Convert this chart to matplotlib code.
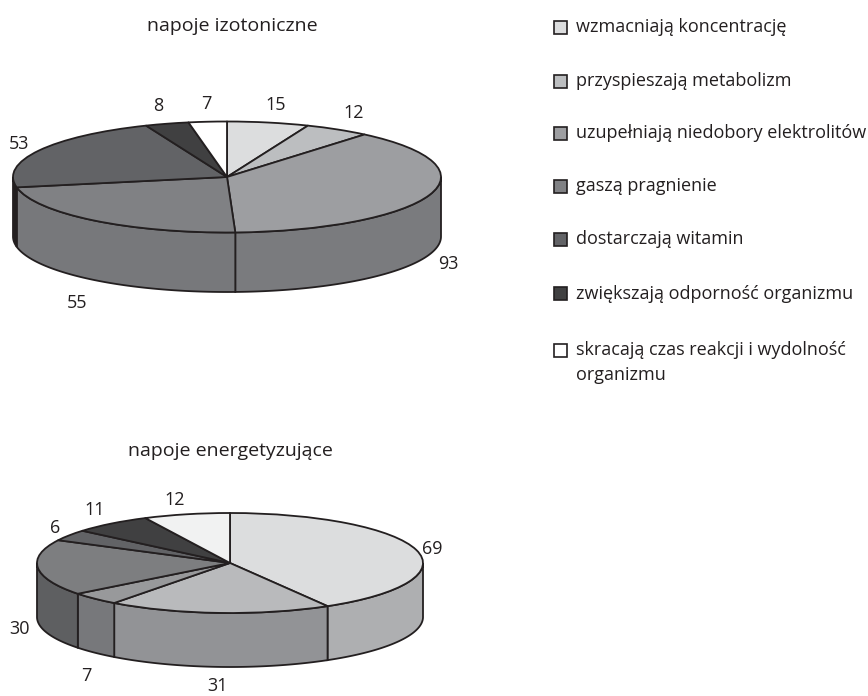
import matplotlib
matplotlib.use("Agg")
import matplotlib.pyplot as plt
import numpy as np
from matplotlib.patches import Rectangle

W, H = 868, 696
INK = "#231f20"
FONT = "Open Sans"
FS = 13.0
FS_TITLE = 14.0

title_a = "napoje izotoniczne"
values_a = [15, 12, 93, 55, 53, 8, 7]
top_a = ["#dcddde", "#bcbec0", "#9d9ea1", "#808184", "#626366", "#404041", "#ffffff"]
wall_a = ["#aeafb1", "#929396", "#7a7b7e", "#77787b", "#231f20", "#231f20", "#231f20"]

title_b = "napoje energetyzujące"
values_b = [69, 31, 7, 30, 6, 11, 12]
top_b = ["#dcddde", "#b9babc", "#98999b", "#7d7e80", "#626366", "#404041", "#f1f2f2"]
wall_b = ["#aeafb1", "#929396", "#77787b", "#5e5f61", "#404041", "#231f20", "#231f20"]

legend_labels = [
    "wzmacniają koncentrację",
    "przyspieszają metabolizm",
    "uzupełniają niedobory elektrolitów",
    "gaszą pragnienie",
    "dostarczają witamin",
    "zwiększają odporność organizmu",
    "skracają czas reakcji i wydolność\norganizmu",
]
legend_y = [27, 81, 133, 186, 239, 294, 350]

labels_a = [(276, 104), (354, 112), (448, 263), (77, 302), (19, 143), (158, 105), (206, 103)]
labels_b = [(432, 548), (217, 685), (86, 675), (19, 628), (55, 527), (95, 509), (175, 499)]

fig = plt.figure(figsize=(W / 100, H / 100), dpi=100, facecolor="white")


def fx(x):
    return x / W


def fy(y):
    return 1 - y / H


def pie3d(cx, cy, rx, ry, depth, values, tops, walls):
    ax = fig.add_axes([fx(cx - rx), fy(cy + ry + depth), 2 * rx / W, (2 * ry + depth) / H])
    wedges, _ = ax.pie(
        values,
        colors=tops,
        startangle=90,
        counterclock=False,
        frame=True,
        wedgeprops=dict(edgecolor=INK, linewidth=1.3, joinstyle="round"),
    )
    d = depth / ry
    for w, col in zip(wedges, walls):
        lo, hi = max(w.theta1, -180), min(w.theta2, 0)
        if hi <= lo:
            continue
        t = np.radians(np.linspace(lo, hi, 80))
        xs = np.r_[np.cos(t), np.cos(t[::-1])]
        ys = np.r_[np.sin(t), np.sin(t[::-1]) - d]
        ax.fill(xs, ys, facecolor=col, edgecolor=INK, linewidth=1.3, zorder=0.5, clip_on=False)
    for w in wedges:
        w.set_clip_on(False)
    ax.set_aspect("auto")
    ax.set_xlim(-1, 1)
    ax.set_ylim(-1 - d, 1)
    ax.axis("off")


pie3d(227, 177, 214, 55.5, 59.5, values_a, top_a, wall_a)
pie3d(230, 563, 193, 50, 54, values_b, top_b, wall_b)


def label(x, y, s, size=FS):
    fig.text(fx(x), fy(y + 6), s, family=FONT, fontsize=size, color=INK, ha="center", va="baseline")


label(232, 25, title_a, FS_TITLE)
label(230, 450, title_b, FS_TITLE)
for (x, y), v in zip(labels_a, values_a):
    label(x, y, str(v))
for (x, y), v in zip(labels_b, values_b):
    label(x, y, str(v))

for y, s, col in zip(legend_y, legend_labels, top_a):
    fig.add_artist(Rectangle((fx(554), fy(y + 6.5)), 13 / W, 13 / H, transform=fig.transFigure,
                             facecolor=col, edgecolor=INK, linewidth=1.2))
    for i, line in enumerate(s.split("\n")):
        fig.text(fx(576), fy(y + 5 + i * 25), line, family=FONT, fontsize=FS, color=INK,
                 ha="left", va="baseline")

fig.savefig("out.png", dpi=100)
